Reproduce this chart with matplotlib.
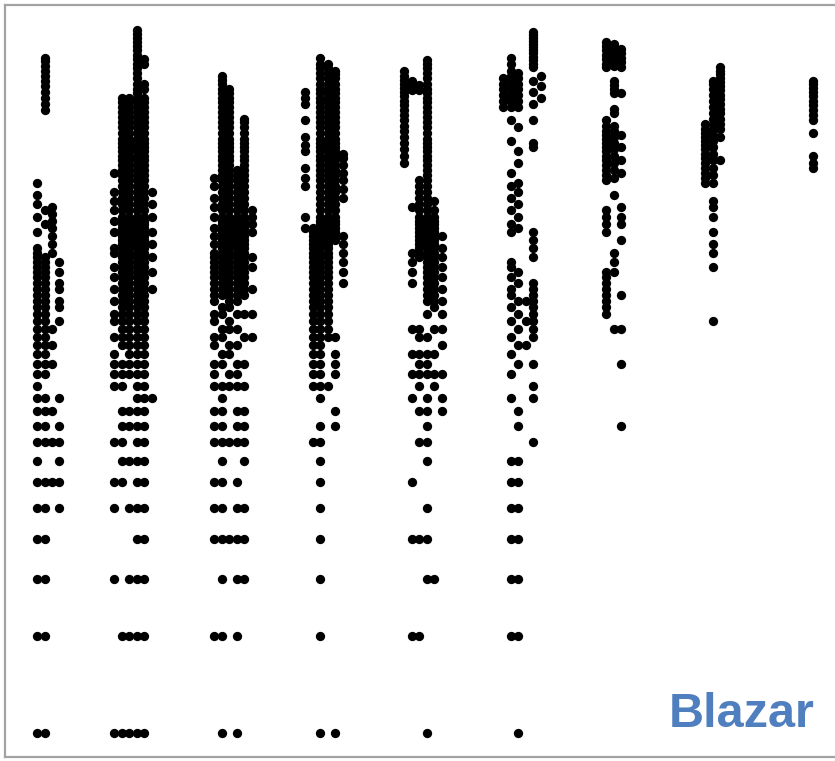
import matplotlib
matplotlib.use("Agg")
import matplotlib.pyplot as plt

# values per column; each column is split into narrow slots (left to right)
col1 = [
    [1, 2, 3, 4, 5, 6, 7, 8, 9, 10, 11, 12, 13, 14, 15, 16, 17, 18, 19, 20, 21, 22, 23, 24, 25, 26, 27, 28,
     29, 30, 31, 32, 36, 40, 44, 47, 51],
    [1, 2, 3, 4, 5, 6, 8, 9, 10, 11, 13, 14, 15, 16, 17, 18, 19, 20, 21, 22, 23, 24, 25, 26, 27, 28, 29, 30,
     38, 42, 86, 90, 94, 98, 102, 106, 110, 114, 118, 122, 125],
    [6, 8, 10, 14, 16, 18, 31, 33, 35, 37, 39, 41, 43],
    [5, 6, 7, 8, 9, 11, 19, 21, 22, 24, 25, 27, 29],
]
col2 = [
    [1, 3, 5, 6, 8, 12, 13, 14, 15, 17, 19, 20, 22, 24, 26, 28, 31, 32, 36, 39, 42, 45, 48, 55],
    [1, 2, 6, 7, 8, 9, 10, 12, 13, 14, 16, 17, 18, 19, 20, 21, 22, 23, 24, 25, 26, 27, 28, 29, 30, 31, 32,
     33, 34, 35, 36, 37, 38, 39, 40, 42, 44, 46, 48, 50, 52, 54, 56, 58, 60, 62, 64, 66, 68, 70, 73, 76, 79,
     82, 85, 88, 91, 94],
    [1, 2, 3, 5, 7, 9, 10, 13, 14, 15, 16, 17, 18, 19, 20, 21, 22, 23, 24, 25, 26, 27, 28, 29, 30, 31, 32,
     33, 34, 35, 36, 37, 38, 39, 40, 42, 44, 46, 48, 50, 52, 54, 56, 58, 60, 62, 64, 66, 68, 70, 73, 76, 79,
     82, 85, 88, 91, 94],
    [1, 2, 3, 4, 5, 6, 7, 8, 9, 10, 11, 12, 13, 14, 15, 16, 17, 18, 19, 20, 21, 22, 23, 24, 25, 26, 27, 28,
     29, 30, 31, 32, 33, 34, 35, 36, 37, 38, 39, 40, 42, 44, 46, 48, 50, 52, 54, 56, 58, 60, 62, 64, 66, 68,
     70, 73, 76, 79, 82, 85, 88, 91, 94, 97, 100, 104, 108, 112, 116, 120, 124, 128, 132, 136, 140, 144,
     148, 152],
    [1, 2, 3, 4, 5, 6, 7, 8, 9, 10, 11, 12, 13, 14, 15, 16, 17, 18, 19, 20, 21, 22, 23, 24, 25, 26, 27, 28,
     29, 30, 31, 32, 33, 34, 35, 36, 37, 38, 39, 40, 42, 44, 46, 48, 50, 52, 54, 56, 58, 60, 62, 64, 66, 68,
     70, 73, 76, 79, 82, 85, 88, 91, 94, 100, 104, 120, 124],
    [11, 24, 27, 30, 33, 36, 40, 44, 48],
]
col3 = [
    [2, 4, 5, 6, 8, 9, 10, 12, 13, 14, 16, 17, 19, 20, 22, 23, 24, 25, 26, 27, 28, 29, 30, 31, 33, 35, 37,
     40, 43, 46, 50, 53],
    [1, 2, 3, 4, 5, 6, 7, 8, 9, 10, 11, 12, 14, 15, 17, 18, 20, 21, 23, 24, 25, 26, 27, 28, 29, 30, 31, 32,
     33, 34, 35, 36, 37, 38, 39, 40, 42, 44, 46, 48, 50, 52, 54, 56, 58, 60, 62, 64, 66, 68, 70, 73, 76, 79,
     82, 85, 88, 91, 94, 97, 100, 104, 107, 110],
    [4, 8, 12, 13, 15, 16, 18, 19, 21, 22, 23, 24, 25, 26, 27, 28, 29, 30, 31, 32, 33, 34, 35, 36, 37, 38,
     39, 40, 42, 44, 46, 48, 50, 52, 54, 56, 58, 60, 62, 64, 66, 68, 70, 73, 76, 79, 82, 85, 88, 91, 94, 97,
     100],
    [1, 2, 3, 4, 5, 6, 8, 9, 10, 12, 13, 14, 16, 18, 20, 22, 23, 24, 25, 26, 27, 28, 29, 30, 31, 32, 33, 34,
     35, 36, 37, 38, 39, 40, 42, 44, 46, 48, 50, 52, 54, 56],
    [3, 4, 5, 7, 8, 9, 10, 12, 14, 17, 20, 23, 24, 25, 26, 27, 28, 29, 30, 31, 32, 33, 34, 35, 36, 37, 38,
     39, 40, 42, 44, 46, 48, 50, 52, 54, 56, 58, 60, 62, 64, 66, 68, 70, 73, 76, 79, 81],
    [17, 20, 24, 28, 30, 36, 38, 40, 42],
]
col4 = [
    [37, 40, 50, 53, 57, 64, 67, 71, 80, 90, 94, 98],
    [8, 12, 13, 14, 15, 16, 17, 18, 19, 20, 21, 22, 23, 24, 25, 26, 27, 28, 29, 30, 31, 32, 33, 34, 35, 36,
     37],
    [1, 2, 3, 4, 5, 6, 7, 8, 9, 11, 12, 13, 14, 15, 16, 17, 18, 19, 20, 21, 22, 23, 24, 25, 26, 27, 28, 29,
     30, 31, 32, 33, 34, 35, 36, 37, 38, 39, 40, 42, 44, 46, 48, 50, 52, 54, 56, 58, 60, 62, 64, 66, 68, 70,
     73, 76, 79, 82, 85, 88, 91, 94, 97, 100, 104, 108, 112, 116, 120, 125],
    [12, 17, 18, 19, 20, 21, 22, 23, 24, 25, 26, 27, 28, 29, 30, 31, 32, 33, 34, 35, 36, 37, 38, 39, 40, 42,
     44, 46, 48, 50, 52, 54, 56, 58, 60, 62, 64, 66, 68, 70, 73, 76, 79, 82, 85, 88, 91, 94, 97, 100, 104,
     108, 112, 116, 120],
    [1, 9, 10, 13, 14, 15, 17, 34, 35, 36, 37, 38, 39, 40, 42, 44, 46, 48, 50, 52, 54, 56, 58, 60, 62, 64,
     66, 68, 70, 73, 76, 79, 82, 85, 88, 91, 94, 97, 100, 104, 108, 111, 114],
    [25, 27, 29, 31, 33, 35, 46, 49, 52, 55, 58, 61, 63],
]
col5 = [
    [59, 62, 65, 68, 71, 74, 77, 80, 83, 86, 89, 92, 95, 98, 101, 104, 107, 110, 114],
    [2, 4, 6, 11, 13, 15, 18, 25, 27, 29, 31, 43, 99, 103, 106],
    [2, 4, 8, 10, 12, 13, 14, 15, 17, 18, 30, 31, 32, 33, 34, 35, 36, 37, 38, 39, 40, 42, 44, 46, 48, 50,
     52, 99, 103],
    [1, 3, 4, 5, 7, 8, 9, 10, 11, 13, 14, 15, 17, 20, 22, 23, 24, 25, 26, 27, 28, 29, 30, 31, 32, 33, 34, 35,
     36, 37, 38, 39, 40, 42, 44, 46, 48, 50, 52, 54, 56, 58, 60, 62, 64, 66, 68, 70, 73, 76, 79, 82, 85, 88,
     91, 94, 97, 100, 104, 108, 112, 116, 120, 123],
    [3, 12, 13, 15, 18, 21, 22, 23, 24, 25, 26, 27, 28, 29, 30, 31, 32, 33, 34, 35, 36, 37, 38, 39, 40, 42,
     45],
    [10, 11, 13, 16, 18, 20, 22, 24, 26, 28, 30, 32, 35],
]
col6 = [
    [88, 92, 96, 100, 104, 108],
    [2, 3, 4, 5, 6, 7, 11, 13, 15, 17, 19, 21, 23, 24, 26, 28, 29, 36, 38, 42, 46, 50, 55, 69, 80, 88, 91,
     94, 97, 100, 103, 106, 110, 114, 120, 125],
    [1, 2, 3, 4, 5, 6, 7, 9, 10, 14, 16, 18, 20, 22, 25, 27, 37, 40, 44, 48, 51, 59, 64, 76, 88, 92, 96,
     100, 104, 108, 112],
    [16, 19, 22],
    [8, 11, 12, 14, 17, 18, 19, 20, 21, 22, 23, 24, 25, 30, 32, 34, 36, 66, 68, 80, 90, 98, 106, 117, 120,
     123, 126, 129, 132, 135, 138, 141, 144, 147, 150],
    [94, 102, 110],
]
col7 = [
    [20, 21, 22, 23, 24, 25, 26, 27, 36, 38, 40, 42, 52, 54, 56, 58, 60, 62, 64, 66, 68, 70, 72, 74, 77, 80,
     117, 120, 124, 128, 132, 136, 140],
    [18, 27, 29, 31, 47, 53, 56, 59, 62, 65, 68, 71, 74, 77, 84, 87, 97, 100, 103, 106, 118, 122, 126, 130,
     134, 138],
    [9, 14, 18, 23, 34, 38, 40, 43, 55, 60, 66, 72, 97, 117, 121, 125, 129, 133],
]
col8 = [
    [51, 53, 55, 57, 59, 61, 63, 65, 67, 69, 71, 73, 75, 78],
    [19, 28, 31, 33, 36, 40, 43, 45, 51, 54, 57, 60, 63, 66, 69, 72, 75, 78, 81, 84, 88, 92, 96, 100, 104,
     106],
    [60, 71, 75, 78, 81, 84, 87, 90, 93, 96, 99, 102, 105, 108, 111, 114, 117],
]
col9 = [
    [57, 59, 62, 73, 80, 83, 86, 89, 92, 95, 98, 101, 104, 106],
]
columns = [col1, col2, col3, col4, col5, col6, col7, col8, col9]
label = "Blazar"

# layout: left slot of each column (axis units) and slot width
col_left = [0.32, 1.09, 2.09, 3.00, 3.99, 4.98, 6.01, 7.00, 8.08]
slot = 0.075

fig = plt.figure(figsize=(8.35, 7.61), dpi=100)
ax = fig.add_axes([5 / 835, 4 / 761, 845 / 835, 752 / 761])

for left, col in zip(col_left, columns):
    for i, vals in enumerate(col):
        ax.plot([left + i * slot] * len(vals), vals, "o", color="black",
                ms=6.7, mew=0)

ax.set_yscale("log")
ax.set_ylim(0.842, 182.4)
ax.set_xlim(0, 8.45)
ax.set_xticks([])
ax.set_yticks([])
ax.minorticks_off()
for s in ax.spines.values():
    s.set_color("#a3a3a3")
    s.set_linewidth(1.6)

fig.text(815 / 835, 1 - 727 / 761, label, ha="right", va="baseline",
         fontsize=35, fontweight="bold", color="#4f7fbf", family="Liberation Sans")

fig.savefig("out.png", dpi=100)
